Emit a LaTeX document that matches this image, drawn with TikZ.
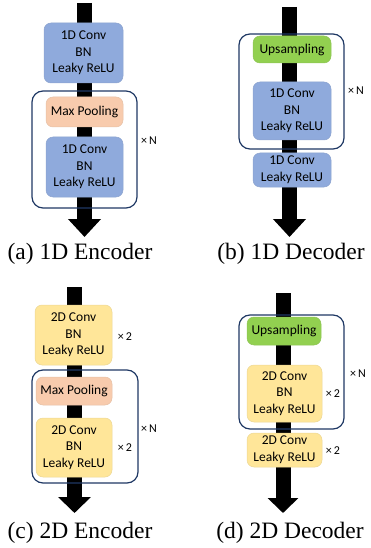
\documentclass[tikz,border=0pt]{standalone}
\usepackage{fontspec}
\setmainfont{Liberation Serif}
\newfontfamily\boxfont{Carlito}
\usetikzlibrary{arrows.meta,backgrounds}
\definecolor{convblue}{RGB}{143,170,220}
\definecolor{convyellow}{RGB}{255,230,153}
\definecolor{poolcol}{RGB}{248,203,173}
\definecolor{upcol}{RGB}{146,208,80}
\definecolor{framecol}{RGB}{31,56,100}
\tikzset{
  % layer box
  lbox/.style={rectangle, rounded corners=7pt, draw=#1!85!gray, line width=0.5pt, fill=#1,
               align=center, inner sep=1pt, font=\boxfont\fontsize{13.5}{16.7}\selectfont},
  lbox/.default={convblue},
  % repeated block
  repframe/.style={rectangle, rounded corners=11pt, draw=framecol, line width=1.2pt, inner sep=0pt},
  % data flow arrow
  flowarrow/.style={line width=15pt, black, -{Triangle[length=18pt,width=32pt]}},
  % repeat label
  replabel/.style={font=\boxfont\fontsize{12}{14}\selectfont, inner sep=0pt},
  % sub caption
  subcap/.style={font=\fontsize{23.5}{28}\selectfont, inner sep=0pt},
}
\begin{document}
\begin{tikzpicture}[x=1pt,y=-1pt]
  \useasboundingbox (0,0) rectangle (370,548);
  % (a) 1D encoder
  \node[lbox, minimum width=79pt, minimum height=60pt] (a1) at (83.5,53) {1D Conv\\BN\\Leaky ReLU};
  \node[repframe, minimum width=105pt, minimum height=117pt] (aframe) at (84.5,149.5) {};
  \node[lbox=poolcol, minimum width=77pt, minimum height=30pt] (apool) at (84.5,112) {Max Pooling};
  \node[lbox, minimum width=77pt, minimum height=60pt] (a2) at (84.5,167) {1D Conv\\BN\\Leaky ReLU};
  \node[replabel] (aN) at (149,141) {×\kern2pt N};
  \node[subcap] (acap) at (80,254) {(a) 1D Encoder};
  \coordinate (ain) at (84.5,3);
  \coordinate (aout) at (84.5,237);
  % (b) 1D decoder
  \node[repframe, minimum width=105pt, minimum height=115pt] (bframe) at (291.5,91.5) {};
  \node[lbox=upcol, minimum width=78pt, minimum height=27pt] (bup) at (292,49.5) {Upsampling};
  \node[lbox, minimum width=78pt, minimum height=58pt] (b1) at (292,111) {1D Conv\\BN\\Leaky ReLU};
  \node[lbox, minimum width=78pt, minimum height=34pt] (b2) at (292,170) {1D Conv\\Leaky ReLU};
  \node[replabel] (bN) at (356,91) {×\kern2pt N};
  \node[subcap] (bcap) at (291,254) {(b) 1D Decoder};
  \coordinate (bin) at (289.5,7);
  \coordinate (bout) at (289.5,237);
  % (c) 2D encoder
  \node[lbox=convyellow, minimum width=77pt, minimum height=60pt] (c1) at (73.5,335) {2D Conv\\BN\\Leaky ReLU};
  \node[replabel] (c1x) at (125,337) {×\kern2pt 2};
  \node[repframe, minimum width=106pt, minimum height=113pt] (cframe) at (85,426.5) {};
  \node[lbox=poolcol, minimum width=76pt, minimum height=28pt] (cpool) at (74,391) {Max Pooling};
  \node[lbox=convyellow, minimum width=76pt, minimum height=59pt] (c2) at (74,447.5) {2D Conv\\BN\\Leaky ReLU};
  \node[replabel] (c2x) at (125,448) {×\kern2pt 2};
  \node[replabel] (cN) at (149,429) {×\kern2pt N};
  \node[subcap] (ccap) at (80,533) {(c) 2D Encoder};
  \coordinate (cin) at (74.5,287);
  \coordinate (cout) at (74.5,513);
  % (d) 2D decoder
  \node[repframe, minimum width=105pt, minimum height=114pt] (dframe) at (291.5,372) {};
  \node[lbox=upcol, minimum width=74pt, minimum height=28pt] (dup) at (284,331) {Upsampling};
  \node[lbox=convyellow, minimum width=75pt, minimum height=57pt] (d1) at (284.5,393.5) {2D Conv\\BN\\Leaky ReLU};
  \node[replabel] (d1x) at (333,394) {×\kern2pt 2};
  \node[lbox=convyellow, minimum width=75pt, minimum height=34pt] (d2) at (284.5,450) {2D Conv\\Leaky ReLU};
  \node[replabel] (d2x) at (333,451) {×\kern2pt 2};
  \node[replabel] (dN) at (358,374) {×\kern2pt N};
  \node[subcap] (dcap) at (290,533) {(d) 2D Decoder};
  \coordinate (din) at (283,293);
  \coordinate (dout) at (283,513);
  % flow arrows behind the boxes
  \begin{scope}[on background layer]
    \draw[flowarrow] (ain) -- (aout);
    \draw[flowarrow] (bin) -- (bout);
    \draw[flowarrow, -{Triangle[length=16pt,width=32pt]}] (cin) -- (cout);
    \draw[flowarrow, -{Triangle[length=15pt,width=30pt]}] (din) -- (dout);
  \end{scope}
\end{tikzpicture}
\end{document}
